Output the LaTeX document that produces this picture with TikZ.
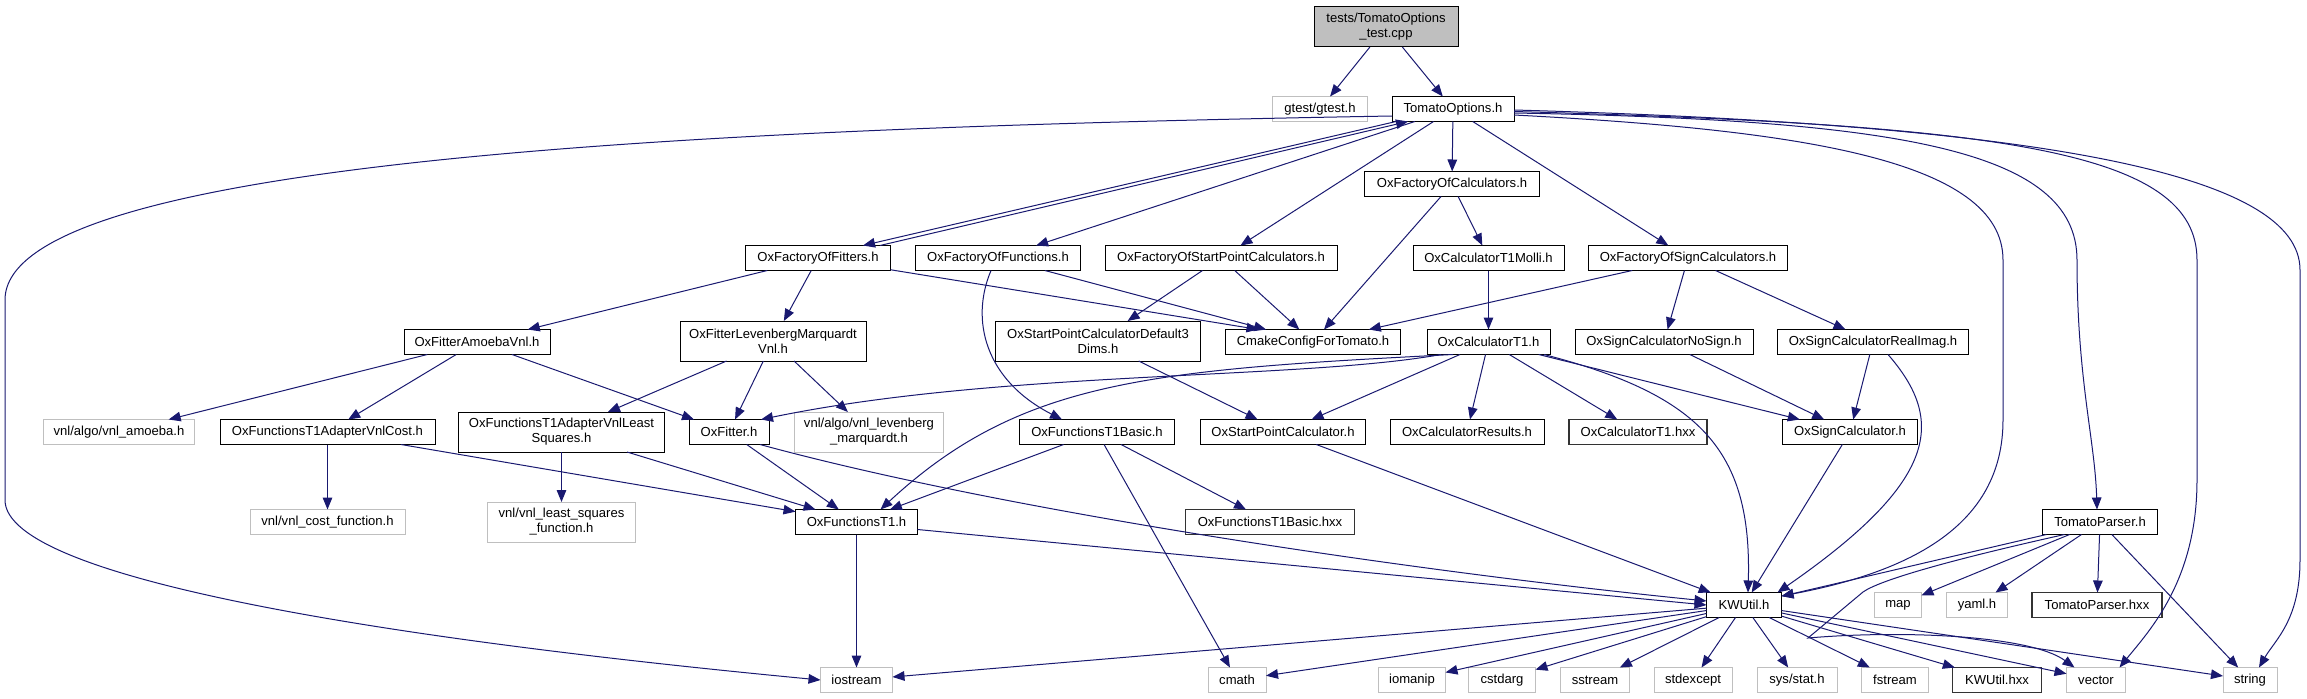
\documentclass[tikz,border=0pt]{standalone}
\usepackage{fontspec}
\setmainfont{Liberation Sans}
\usetikzlibrary{arrows.meta,calc}
\definecolor{edgec}{HTML}{191970}
\definecolor{extc}{HTML}{BFBFBF}
\definecolor{rootc}{HTML}{BFBFBF}
\begin{document}
\begin{tikzpicture}[x=0.75pt,y=-0.75pt,
 every node/.style={font=\fontsize{9.8pt}{11.25pt}\selectfont, inner sep=0pt, outer sep=0pt, minimum height=25*0.75pt, align=center},
 box/.style={draw=black, line width=0.75pt, fill=white},
 ext/.style={draw=extc, line width=0.75pt, fill=white},
 hxx/.style={draw=black!80, line width=1.2pt, fill=white},
 rootn/.style={draw=black, line width=0.75pt, fill=rootc},
 bw/.style={minimum width=#1*0.75pt},
 tall/.style={minimum height=40*0.75pt},
 edge/.style={draw=edgec, line width=0.75pt, -{Triangle[length=9pt,width=7.2pt]}},
]
\useasboundingbox (0,0) rectangle (2307,699);
% nodes
\node[rootn,bw=144,tall] (root) at (1386,27) {tests/TomatoOptions\\\_test.cpp};
\node[ext,bw=95] (gtest) at (1320,109) {gtest/gtest.h};
\node[box,bw=122] (topt) at (1453,109) {TomatoOptions.h};
\node[box,bw=175] (fcalc) at (1452,184) {OxFactoryOfCalculators.h};
\node[box,bw=145] (ffit) at (818,258) {OxFactoryOfFitters.h};
\node[box,bw=165] (ffun) at (998,258) {OxFactoryOfFunctions.h};
\node[box,bw=232] (fspc) at (1221,258) {OxFactoryOfStartPointCalculators.h};
\node[box,bw=151] (molli) at (1488.5,258) {OxCalculatorT1Molli.h};
\node[box,bw=199] (fsign) at (1688,258) {OxFactoryOfSignCalculators.h};
\node[box,bw=146] (amoeba) at (477,342) {OxFitterAmoebaVnl.h};
\node[box,bw=186,tall] (lm) at (773,341) {OxFitterLevenbergMarquardt\\Vnl.h};
\node[box,bw=205,tall] (d3) at (1098,341) {OxStartPointCalculatorDefault3\\Dims.h};
\node[box,bw=175] (cmake) at (1313,342) {CmakeConfigForTomato.h};
\node[box,bw=123] (calct1) at (1488.5,342) {OxCalculatorT1.h};
\node[box,bw=178] (nosign) at (1664,342) {OxSignCalculatorNoSign.h};
\node[box,bw=191] (realimag) at (1873,342) {OxSignCalculatorRealImag.h};
\node[ext,bw=151] (vamoeba) at (119,432) {vnl/algo/vnl\_amoeba.h};
\node[box,bw=215] (adcost) at (327.5,432) {OxFunctionsT1AdapterVnlCost.h};
\node[box,bw=206,tall] (adls) at (561.5,432) {OxFunctionsT1AdapterVnlLeast\\Squares.h};
\node[box,bw=80] (fitter) at (729,432) {OxFitter.h};
\node[ext,bw=149,tall] (vlm) at (869,432) {vnl/algo/vnl\_levenberg\\\_marquardt.h};
\node[box,bw=155] (basic) at (1097,432) {OxFunctionsT1Basic.h};
\node[box,bw=165] (spc) at (1283,432) {OxStartPointCalculator.h};
\node[box,bw=154] (results) at (1467,432) {OxCalculatorResults.h};
\node[hxx,bw=138] (t1hxx) at (1638,432) {OxCalculatorT1.hxx};
\node[box,bw=135] (sign) at (1850,432) {OxSignCalculator.h};
\node[ext,bw=155] (vcost) at (327.5,522) {vnl/vnl\_cost\_function.h};
\node[ext,bw=148,tall] (vls) at (561.5,522) {vnl/vnl\_least\_squares\\\_function.h};
\node[box,bw=122] (funt1) at (856.5,522) {OxFunctionsT1.h};
\node[hxx,bw=169] (basichxx) at (1270,522) {OxFunctionsT1Basic.hxx};
\node[box,bw=115] (tparser) at (2100,522) {TomatoParser.h};
\node[box,bw=75] (kwutil) at (1744,605) {KWUtil.h};
\node[ext,bw=47] (map) at (1898,605) {map};
\node[ext,bw=61] (yaml) at (1977,605) {yaml.h};
\node[hxx,bw=130] (tphxx) at (2097,605) {TomatoParser.hxx};
\node[ext,bw=72] (iostream) at (856.5,680) {iostream};
\node[ext,bw=58] (cmath) at (1237,680) {cmath};
\node[ext,bw=67] (iomanip) at (1412,680) {iomanip};
\node[ext,bw=67] (cstdarg) at (1502,680) {cstdarg};
\node[ext,bw=69] (sstream) at (1595,680) {sstream};
\node[ext,bw=78] (stdexcept) at (1693,680) {stdexcept};
\node[ext,bw=80] (sysstat) at (1797,680) {sys/stat.h};
\node[ext,bw=67] (fstream) at (1895,680) {fstream};
\node[hxx,bw=89] (kwhxx) at (1997,680) {KWUtil.hxx};
\node[ext,bw=59] (vector) at (2096,680) {vector};
\node[ext,bw=54] (string) at (2250,680) {string};
% edges
\draw[edge] (root) -- (gtest);
\draw[edge] (root) -- (topt);
\draw[edge] (topt) -- (fcalc);
\draw[edge] ($(topt.south west)+(4,0)$) -- ($(ffit.north)+(45,0)$);
\draw[edge] ($(ffit.north)+(62,0)$) -- ($(topt.south west)+(16,0)$);
\draw[edge] (topt) -- (ffun);
\draw[edge] (topt) -- (fspc);
\draw[edge] (topt) -- (fsign);
\draw[edge] ($(topt.west)+(0,7)$) .. controls (700,128) and (5,160) .. (5,300) -- (5,500) .. controls (5,580) and (400,640) .. (iostream.west);
\draw[edge] ($(topt.east)+(0,6)$) .. controls (1800,130) and (2003,160) .. (2003,260) -- (2003,420) .. controls (2003,520) and (1920,570) .. ($(kwutil.east)+(0,-9)$);
\draw[edge] ($(topt.east)+(0,4)$) .. controls (1900,120) and (2077,150) .. (2077,260) .. controls (2077,380) and (2095,440) .. ($(tparser.north)+(-3,0)$);
\draw[edge] ($(topt.east)+(0,2.5)$) .. controls (2000,125) and (2197,150) .. (2197,260) -- (2197,480) .. controls (2197,580) and (2150,630) .. ($(vector.north east)+(-6,0)$);
\draw[edge] ($(topt.east)+(0,1)$) .. controls (2050,125) and (2300,175) .. (2300,270) -- (2300,560) .. controls (2300,620) and (2275,640) .. ($(string.north east)+(-18,0)$);
\draw[edge] (fcalc) -- (cmake);
\draw[edge] (fcalc) -- (molli);
\draw[edge] (ffit) -- (amoeba);
\draw[edge] (ffit) -- (lm);
\draw[edge] (ffit) -- ($(cmake.north west)+(33,0)$);
\draw[edge] ($(ffun.south)+(-7,0)$) .. controls (970,320) and (985,380) .. ($(basic.north)+(-35,0)$);
\draw[edge] (ffun) -- (cmake);
\draw[edge] (fspc) -- (d3);
\draw[edge] (fspc) -- (cmake);
\draw[edge] (fsign) -- (cmake);
\draw[edge] (fsign) -- (nosign);
\draw[edge] (fsign) -- (realimag);
\draw[edge] (molli) -- (calct1);
\draw[edge] (amoeba) -- (vamoeba);
\draw[edge] (amoeba) -- (adcost);
\draw[edge] (amoeba) -- (fitter);
\draw[edge] (lm) -- (adls);
\draw[edge] (lm) -- (fitter);
\draw[edge] (lm) -- (vlm);
\draw[edge] (d3) -- (spc);
\draw[edge] ($(calct1.south west)+(14,0)$) .. controls (1300,380) and (1000,370) .. ($(fitter.north east)+(-8,0)$);
\draw[edge] ($(calct1.south west)+(26,0)$) .. controls (1150,370) and (1020,380) .. ($(funt1.north)+(24,0)$);
\draw[edge] (calct1) -- (spc);
\draw[edge] (calct1) -- (results);
\draw[edge] (calct1) -- (t1hxx);
\draw[edge] (calct1) -- (sign);
\draw[edge] ($(calct1.south east)+(-6,0)$) .. controls (1700,395) and (1752,450) .. ($(kwutil.north)+(4,0)$);
\draw[edge] (nosign) -- (sign);
\draw[edge] (realimag) -- (sign);
\draw[edge] ($(realimag.south)+(15,0)$) .. controls (1945,420) and (1940,480) .. ($(kwutil.north east)+(-4,0)$);
\draw[edge] (sign) -- (kwutil);
\draw[edge] (spc) -- (kwutil);
\draw[edge] (adcost) -- (vcost);
\draw[edge] (adcost) -- (funt1);
\draw[edge] (adls) -- (vls);
\draw[edge] (adls) -- (funt1);
\draw[edge] (fitter) -- (funt1);
\draw[edge] ($(fitter.south east)+(-9,0)$) .. controls (1000,510) and (1400,570) .. ($(kwutil.west)+(0,-4)$);
\draw[edge] ($(funt1.south east)+(0,-5)$) -- (kwutil.west);
\draw[edge] (funt1) -- (iostream);
\draw[edge] (basic) -- (funt1);
\draw[edge] (basic) -- (cmath);
\draw[edge] (basic) -- (basichxx);
\draw[edge] (kwutil) -- (iostream);
\draw[edge] (kwutil) -- (cmath);
\draw[edge] (kwutil) -- (iomanip);
\draw[edge] (kwutil) -- (cstdarg);
\draw[edge] (kwutil) -- (sstream);
\draw[edge] (kwutil) -- (stdexcept);
\draw[edge] (kwutil) -- (sysstat);
\draw[edge] (kwutil) -- (fstream);
\draw[edge] (kwutil) -- (kwhxx);
\draw[edge] (kwutil) -- (vector);
\draw[edge] (kwutil) -- (string);
\draw[edge] (tparser) -- (kwutil);
\draw[edge] (tparser) -- (map);
\draw[edge] (tparser) -- (yaml);
\draw[edge] (tparser) -- (tphxx);
\draw[edge] (tparser) -- (string);
\draw[edge] ($(tparser.south west)+(22,0)$) .. controls (1950,560) and (1880,580) .. (1863,592) -- (1808,638) .. controls (1900,630) and (2030,635) .. ($(vector.north west)+(8,0)$);
\end{tikzpicture}
\end{document}
